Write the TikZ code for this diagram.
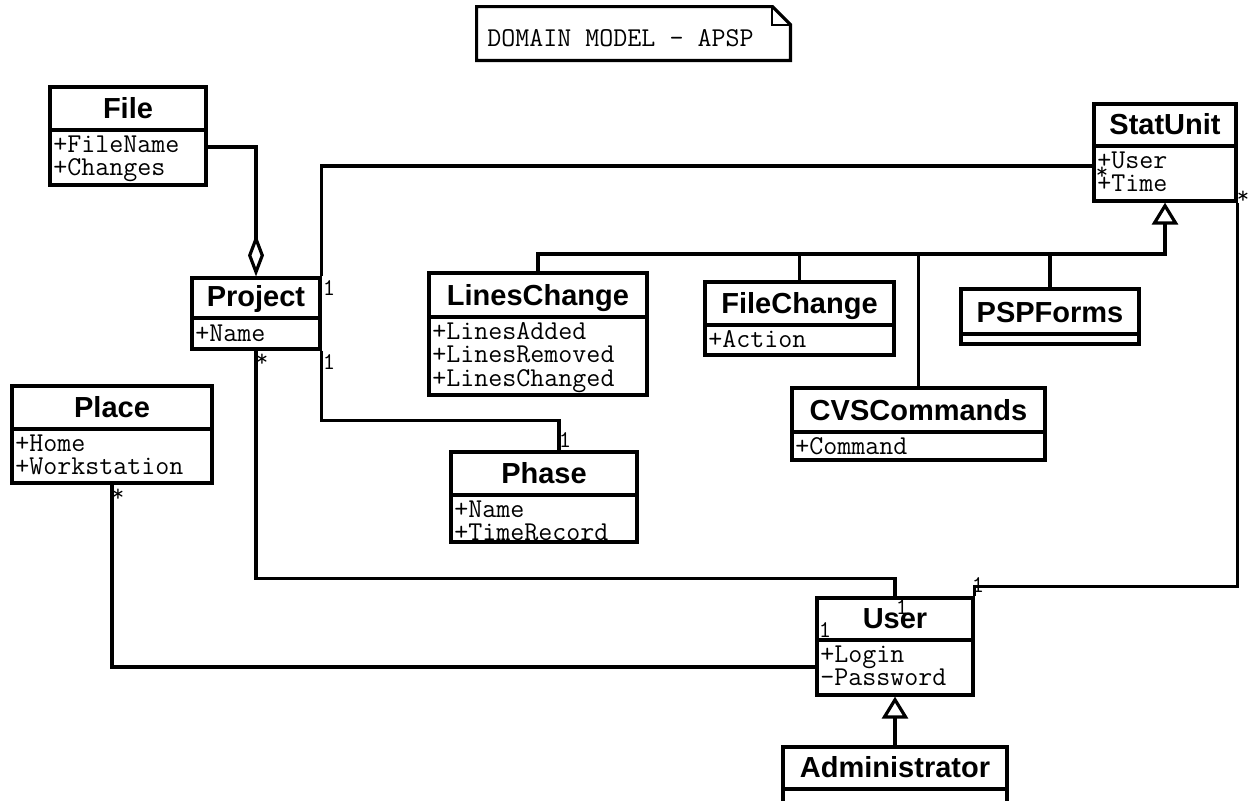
\documentclass[tikz,border=0pt]{standalone}
\usepackage{fontspec}
\setmainfont{Liberation Sans}
\usetikzlibrary{arrows.meta,fit,calc}
\tikzset{
  classbox/.style={draw, line width=1.6pt, inner sep=0pt, fill=white},
  ctitle/.style={font=\bfseries\fontsize{14.5}{16}\selectfont, inner sep=0pt, anchor=base},
  cattr/.style={font=\ttfamily\fontsize{13.6}{15}\selectfont, inner sep=0pt, anchor=base west},
  mult/.style={font=\ttfamily\fontsize{12}{13}\selectfont, inner sep=0pt},
  conn/.style={line width=1.6pt},
  aggr/.style={conn, -{Diamond[open, length=21pt, width=8pt]}},
  genar/.style={conn, -{Triangle[open, length=11pt, width=13pt]}},
}
% name, x1, y1, x2, y2, separator y, title
\newcommand\umlclass[7]{%
  \node[classbox, fit={(#2,#3) (#4,#5)}] (#1) {};
  \draw[line width=1.6pt] (#2,#6) -- (#4,#6);
  \node[ctitle] (#1-t) at ({(#2+#4)/2},{#6-12}) {#7};
}
\newcommand\umlattr[4]{\node[cattr] (#1) at (#2,#3) {#4};}
\begin{document}
\begin{tikzpicture}[x=0.5pt,y=-0.5pt]
\useasboundingbox (0,0) rectangle (1248,800);
\clip (0,0) rectangle (1248,800);

% note
\node[inner sep=0pt, fit={(477,7) (790,60)}] (note) {};
\draw[line width=1.6pt] (note.south west) -- (note.north west) -- ($(note.north east)+(-18,0)$) -- ($(note.north east)+(0,18)$) -- (note.south east) -- cycle;
\draw[line width=1pt] ($(note.north east)+(-18,0)$) |- ($(note.north east)+(0,18)$);
\node[cattr] (notetext) at (487,46) {DOMAIN MODEL - APSP};

% classes
\umlclass{file}{50}{87}{206}{185}{130}{File}
\umlattr{file-a1}{53}{152}{+FileName}
\umlattr{file-a2}{53}{175.5}{+Changes}

\umlclass{project}{192}{278}{320}{349}{318}{Project}
\umlattr{project-a1}{195}{341}{+Name}

\umlclass{place}{12}{386}{212}{483}{429}{Place}
\umlattr{place-a1}{15}{451}{+Home}
\umlattr{place-a2}{15}{474.5}{+Workstation}

\umlclass{statunit}{1094}{104}{1236}{201}{146}{StatUnit}
\umlattr{statunit-a1}{1097}{168}{+User}
\umlattr{statunit-a2}{1097}{191.5}{+Time}

\umlclass{linesc}{429}{273}{647}{395}{317}{LinesChange}
\umlattr{linesc-a1}{432}{339}{+LinesAdded}
\umlattr{linesc-a2}{432}{362.5}{+LinesRemoved}
\umlattr{linesc-a3}{432}{386}{+LinesChanged}

\umlclass{filech}{705}{282}{894}{355}{325}{FileChange}
\umlattr{filech-a1}{708}{347}{+Action}

\umlclass{psp}{961}{289}{1139}{344}{334}{PSPForms}

\umlclass{cvs}{792}{388}{1045}{460}{432}{CVSCommands}
\umlattr{cvs-a1}{795}{454}{+Command}

\umlclass{phase}{451}{452}{637}{542}{495}{Phase}
\umlattr{phase-a1}{454}{517}{+Name}
\umlattr{phase-a2}{454}{540.5}{+TimeRecord}

\umlclass{user}{817}{598}{973}{695}{640}{User}
\umlattr{user-a1}{820}{662}{+Login}
\umlattr{user-a2}{820}{685.5}{-Password}

\umlclass{admin}{783}{747}{1007}{812}{789}{Administrator}

% connectors
\draw[aggr] (file.east |- 0,147) -| (project.north);
\draw[conn] (statunit.west |- 0,166) -| (project.north east);
\draw[conn] (project.south east) -- ++(0,70) -| (phase.north -| 559,0);
\draw[conn] (project.south) -- ++(0,228) -| (user.north);
\draw[conn] (place.south) |- (user.west |- 0,667);
\draw[conn] (user.north east) -- ++(0,-10) -| (statunit.south east);
\coordinate (gj) at (1165,254);
\draw[genar] (linesc.north) |- (gj) -- (statunit.south);
\draw[conn] (filech.north) -- (filech.north |- gj);
\draw[conn] (cvs.north) -- (cvs.north |- gj);
\draw[conn] (psp.north) -- (psp.north |- gj);
\draw[genar] (admin.north) -- (user.south);

% multiplicities
\node[mult] (m1) at (329,288) {1};
\node[mult] (m2) at (329,362) {1};
\node[mult] (m3) at (262,360) {*};
\node[mult] (m4) at (565,440) {1};
\node[mult] (m5) at (1102,173) {*};
\node[mult] (m6) at (1243,197) {*};
\node[mult] (m7) at (118,495) {*};
\node[mult] (m8) at (902,607) {1};
\node[mult] (m9) at (825,630) {1};
\node[mult] (m10) at (978,585) {1};
\end{tikzpicture}
\end{document}
